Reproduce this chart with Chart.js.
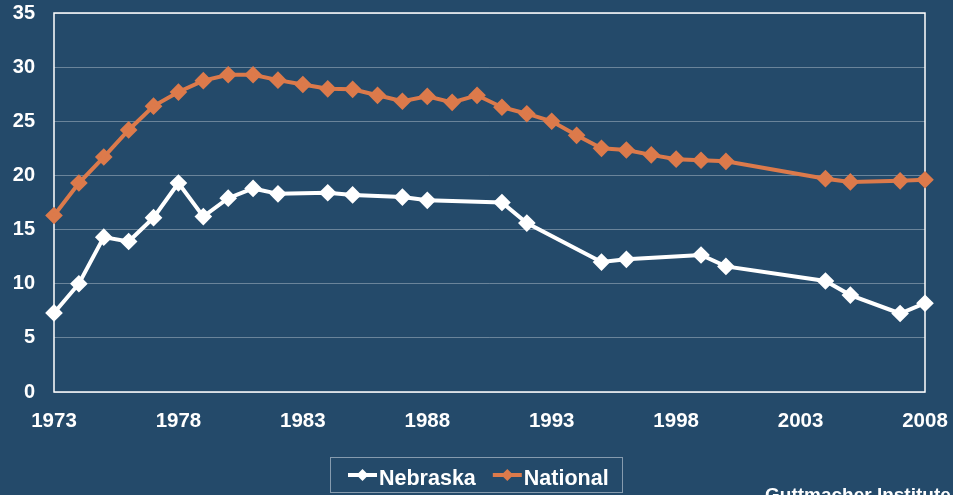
<!DOCTYPE html>
<html>
<head>
<meta charset="utf-8">
<script src="https://cdn.jsdelivr.net/npm/chart.js@4.4.0/dist/chart.umd.min.js"></script>
<style>
  html, body { margin: 0; padding: 0; background: #244a6a; }
  canvas { display: block; }
</style>
</head>
<body>
<canvas id="rateChart" width="953" height="495"></canvas>
<script>
const nebraskaYears = [1973, 1974, 1975, 1976, 1977, 1978, 1979, 1980, 1981, 1982, 1984, 1985,
    1987, 1988, 1991, 1992, 1995, 1996, 1999, 2000, 2004, 2005, 2007, 2008];
const nebraskaValues = [7.3, 10.0, 14.3, 13.9, 16.1, 19.3, 16.2, 17.9, 18.8, 18.3, 18.4, 18.2,
    18.0, 17.7, 17.5, 15.6, 12.0, 12.25, 12.65, 11.6, 10.25, 8.95, 7.25, 8.2];

const nationalYears = [1973, 1974, 1975, 1976, 1977, 1978, 1979, 1980, 1981, 1982, 1983, 1984,
    1985, 1986, 1987, 1988, 1989, 1990, 1991, 1992, 1993, 1994, 1995, 1996, 1997, 1998, 1999,
    2000, 2004, 2005, 2007, 2008];
const nationalValues = [16.3, 19.3, 21.7, 24.2, 26.4, 27.7, 28.75, 29.3, 29.3, 28.8, 28.4, 28.0,
    27.95, 27.4, 26.85, 27.3, 26.75, 27.4, 26.3, 25.7, 25.0, 23.7, 22.5, 22.35, 21.9, 21.5, 21.4,
    21.3, 19.7, 19.4, 19.5, 19.6];

const xTickValues = [1973, 1978, 1983, 1988, 1993, 1998, 2003, 2008];
const yTickValues = [0, 5, 10, 15, 20, 25, 30, 35];

const seriesNames = ['Nebraska', 'National'];
const sourceText = 'Guttmacher Institute';

const font = "'Liberation Sans', Arial, sans-serif";
const orange = '#dc7a4b';

const toPoints = (xs, ys) => xs.map((x, i) => ({ x: x, y: ys[i] }));

// frame, legend box and source line
const decorations = {
    id: 'decorations',
    beforeDatasetsDraw(chart) {
        const { ctx, chartArea } = chart;
        ctx.save();
        ctx.strokeStyle = '#ffffff';
        ctx.lineWidth = 1.5;
        ctx.strokeRect(chartArea.left, chartArea.top, chartArea.right - chartArea.left, chartArea.bottom - chartArea.top);
        ctx.restore();
    },
    afterDraw(chart) {
        const ctx = chart.ctx;
        ctx.save();
        // legend
        ctx.strokeStyle = 'rgba(200,210,220,0.6)';
        ctx.lineWidth = 1;
        ctx.strokeRect(330.5, 457.5, 292, 35);
        ctx.font = 'bold 21.5px ' + font;
        ctx.textBaseline = 'alphabetic';
        let x = 348;
        const y = 475;
        chart.data.datasets.forEach((ds) => {
            ctx.strokeStyle = ds.borderColor;
            ctx.fillStyle = ds.borderColor;
            ctx.lineWidth = 4;
            ctx.beginPath();
            ctx.moveTo(x, y);
            ctx.lineTo(x + 29, y);
            ctx.stroke();
            ctx.beginPath();
            ctx.moveTo(x + 14.5, y - 6);
            ctx.lineTo(x + 20.5, y);
            ctx.lineTo(x + 14.5, y + 6);
            ctx.lineTo(x + 8.5, y);
            ctx.closePath();
            ctx.fill();
            ctx.fillStyle = '#ffffff';
            ctx.fillText(ds.label, x + 31, 485);
            x += 31 + ctx.measureText(ds.label).width + 17;
        });
        // source
        ctx.font = 'bold 19px ' + font;
        ctx.textBaseline = 'alphabetic';
        ctx.fillStyle = '#ffffff';
        ctx.fillText(sourceText, 765, 501);
        ctx.restore();
    }
};

const ctx = document.getElementById('rateChart').getContext('2d');
const rateChart = new Chart(ctx, {
    type: 'line',
    data: {
        datasets: [{
            label: seriesNames[0],
            data: toPoints(nebraskaYears, nebraskaValues),
            borderColor: '#ffffff',
            backgroundColor: '#ffffff',
            borderWidth: 4,
            pointStyle: 'rectRot',
            pointRadius: 6,
            pointHoverRadius: 6,
            tension: 0,
            clip: false
        }, {
            label: seriesNames[1],
            data: toPoints(nationalYears, nationalValues),
            borderColor: orange,
            backgroundColor: orange,
            borderWidth: 4,
            pointStyle: 'rectRot',
            pointRadius: 6,
            pointHoverRadius: 6,
            tension: 0,
            clip: false
        }]
    },
    options: {
        responsive: false,
        animation: false,
        devicePixelRatio: 1,
        layout: { padding: { top: 13, right: 28, left: 0, bottom: 0 } },
        plugins: {
            legend: { display: false },
            tooltip: { enabled: false }
        },
        scales: {
            x: {
                type: 'linear',
                min: 1973,
                max: 2008,
                afterBuildTicks: (scale) => { scale.ticks = xTickValues.map(v => ({ value: v })); },
                afterFit: (scale) => {
                    scale.height = 103;
                    scale.paddingLeft = 0;
                    scale.paddingRight = 0;
                },
                grid: { display: false, drawTicks: false },
                border: { display: false },
                ticks: {
                    color: '#ffffff',
                    padding: 17,
                    maxRotation: 0,
                    font: { family: font, size: 20.5, weight: 'bold' },
                    callback: (v) => String(v)
                }
            },
            y: {
                min: 0,
                max: 35,
                afterBuildTicks: (scale) => { scale.ticks = yTickValues.map(v => ({ value: v })); },
                afterFit: (scale) => {
                    scale.width = 54;
                    scale.paddingTop = 0;
                    scale.paddingBottom = 0;
                },
                grid: { color: 'rgba(255,255,255,0.32)', lineWidth: 1, drawTicks: false },
                border: { display: false },
                ticks: {
                    color: '#ffffff',
                    padding: 19,
                    font: { family: font, size: 20, weight: 'bold' }
                }
            }
        }
    },
    plugins: [decorations]
});
</script>
</body>
</html>
